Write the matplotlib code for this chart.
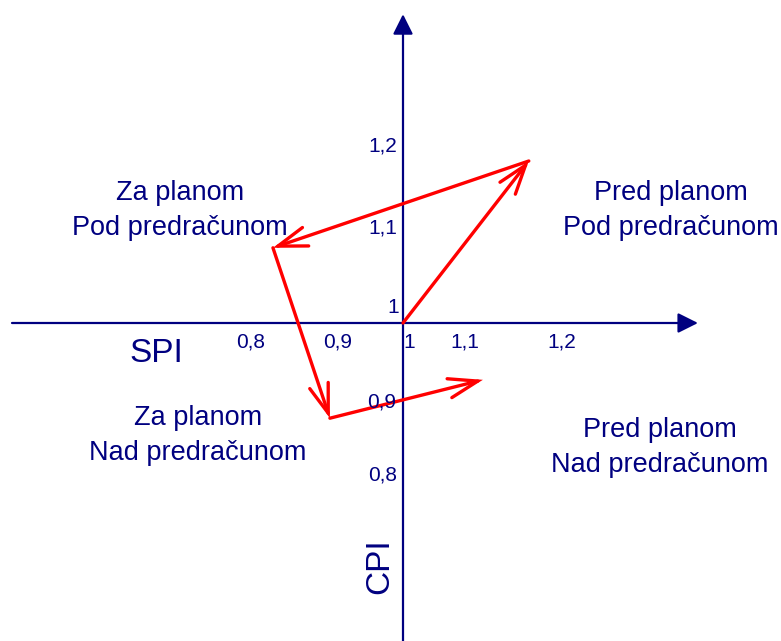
import matplotlib
matplotlib.use("Agg")
import matplotlib.pyplot as plt

plt.rcParams['font.family'] = ['Liberation Sans', 'DejaVu Sans']

NAVY = '#000080'

# putanja (SPI, CPI) kroz vrijeme
spi = [1.0, 1.148, 0.847, 0.914, 1.094]
cpi = [1.0, 1.2025, 1.094, 0.881, 0.929]

# oznake na osima
x_tick_text = ['0,8', '0,9', '1', '1,1', '1,2']
x_tick_pos = [0.8212, 0.9235, 1.007, 1.073, 1.187]
y_tick_text = ['1,2', '1,1', '1', '0,9', '0,8']
y_tick_pos = [1.221, 1.119, 1.02, 0.901, 0.81]
y_tick_x = [0.9765, 0.9765, 0.988, 0.975, 0.9765]

# kvadranti
quad_text = ['Za planom\nPod predračunom', 'Pred planom\nPod predračunom',
             'Za planom\nNad predračunom', 'Pred planom\nNad predračunom']
quad_x = [0.7376, 1.315, 0.7588, 1.302]
quad_y = [1.141, 1.141, 0.859, 0.844]

fig = plt.figure(figsize=(7.81, 6.41), dpi=100)
ax = fig.add_axes([0, 0, 1, 1])
ax.set_xlim(1 - 403 / 850, 1 + 378 / 850)
ax.set_ylim(1 - 318 / 800, 1 + 323 / 800)
ax.axis('off')

# osi sa strelicama
axis_arrow = dict(arrowstyle='-|>,head_length=1.22,head_width=0.61', mutation_scale=10,
                  lw=1.6, color=NAVY, shrinkA=0, shrinkB=0)
ax.annotate('', xy=(1.347, 1.0), xytext=(0.54, 1.0), arrowprops=axis_arrow)
ax.annotate('', xy=(1.0, 1.386), xytext=(1.0, 0.59), arrowprops=axis_arrow)

# crvene strelice
for i in range(len(spi) - 1):
    ax.annotate('', xy=(spi[i + 1], cpi[i + 1]), xytext=(spi[i], cpi[i]),
                arrowprops=dict(arrowstyle='->,head_length=2.1,head_width=0.7',
                                mutation_scale=10, lw=2.4, color='#ff0000',
                                shrinkA=0, shrinkB=0, joinstyle='miter',
                                capstyle='round'))

for t, x in zip(x_tick_text, x_tick_pos):
    ax.text(x, 0.976, t, color=NAVY, fontsize=15, ha='center', va='center')
for t, x, y in zip(y_tick_text, y_tick_x, y_tick_pos):
    ax.text(x, y, t, color=NAVY, fontsize=15, ha='center', va='center')

for t, x, y in zip(quad_text, quad_x, quad_y):
    ax.text(x, y, t, color=NAVY, fontsize=19.5, ha='center', va='center',
            linespacing=1.45)

ax.text(0.7094, 0.9625, 'SPI', color=NAVY, fontsize=24, ha='center', va='center')
ax.text(0.973, 0.696, 'CPI', color=NAVY, fontsize=24, ha='center', va='center',
        rotation=90)

fig.savefig('out.png', dpi=100)
